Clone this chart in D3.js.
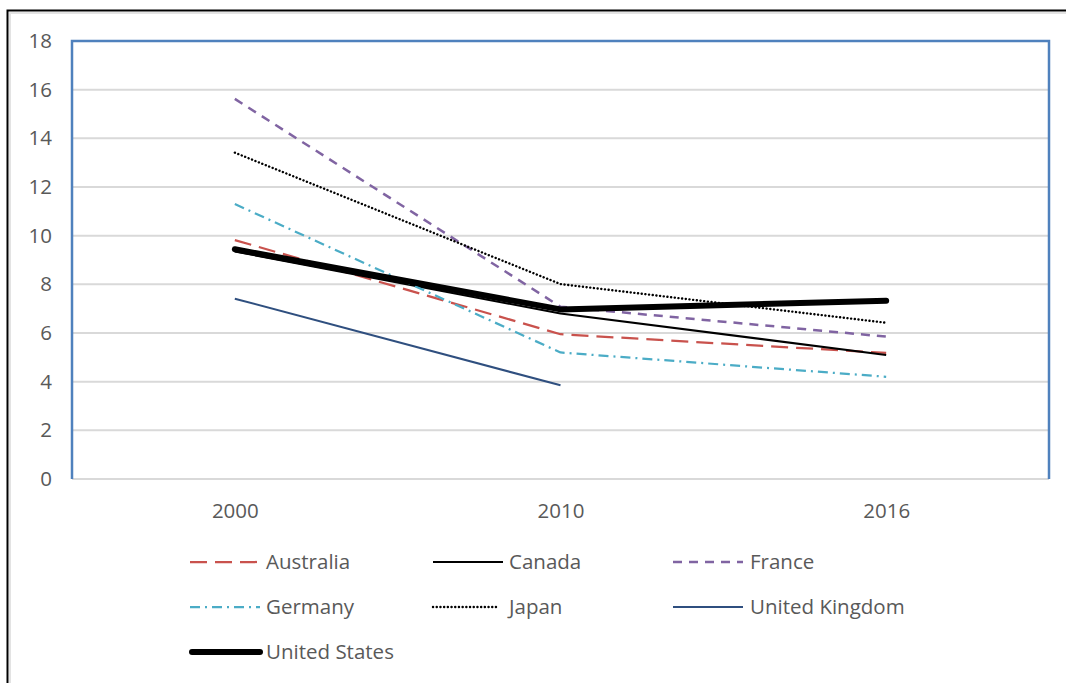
<!DOCTYPE html>
<html>
<head>
<meta charset="utf-8">
<script src="https://cdn.jsdelivr.net/npm/d3@7"></script>
<style>
  body { margin: 0; background: #fff; }
  text { font-family: "Open Sans", "Noto Sans", sans-serif; fill: #595959; }
</style>
</head>
<body>
<div id="chart"></div>
<script>
const years = ['2000', '2010', '2016'];
const yTicks = [0, 2, 4, 6, 8, 10, 12, 14, 16, 18];

const australia = [9.82, 5.95, 5.18];
const canada = [9.35, 6.8, 5.1];
const france = [15.62, 7.08, 5.85];
const germany = [11.3, 5.2, 4.2];
const japan = [13.41, 8.01, 6.42];
const unitedKingdom = [7.41, 3.85, null];
const unitedStates = [9.44, 6.97, 7.33];

const series = [
    { name: 'Australia', values: australia, color: '#c9524d', width: 2.25, dash: '17,8', cap: 'butt' },
    { name: 'Canada', values: canada, color: '#000000', width: 2, dash: null, cap: 'butt' },
    { name: 'France', values: france, color: '#8064a2', width: 2.5, dash: '9,7', cap: 'butt' },
    { name: 'Germany', values: germany, color: '#4bacc6', width: 2.25, dash: '10,5,2,5', cap: 'butt' },
    { name: 'Japan', values: japan, color: '#000000', width: 2.4, dash: '0.1,3.6', cap: 'round' },
    { name: 'United Kingdom', values: unitedKingdom, color: '#2f4f7f', width: 2, dash: null, cap: 'butt' },
    { name: 'United States', values: unitedStates, color: '#000000', width: 6, dash: null, cap: 'round' }
];

const width = 1066;
const height = 683;
const plot = { left: 72, top: 41, right: 1049, bottom: 479 };
const fontSize = 20.5;

const svg = d3.select('#chart').append('svg')
    .attr('width', width)
    .attr('height', height);

// outer frame (screenshot border)
svg.append('path')
    .attr('d', 'M7.5,' + height + ' V10.5 H' + width)
    .attr('fill', 'none')
    .attr('stroke', '#000')
    .attr('stroke-width', 2);
svg.append('path')
    .attr('d', 'M10,' + height + ' V13 H' + width)
    .attr('fill', 'none')
    .attr('stroke', '#e3e3e3')
    .attr('stroke-width', 2);

const x = d3.scalePoint()
    .domain(years)
    .range([plot.left, plot.right])
    .padding(0.5);

const y = d3.scaleLinear()
    .domain([0, 18])
    .range([plot.bottom, plot.top]);

// gridlines
svg.append('g')
    .selectAll('line')
    .data(yTicks.filter(t => t < 18))
    .join('line')
    .attr('x1', plot.left)
    .attr('x2', plot.right)
    .attr('y1', d => y(d))
    .attr('y2', d => y(d))
    .attr('stroke', '#d9d9d9')
    .attr('stroke-width', 2);

// plot area border (left, top, right)
svg.append('path')
    .attr('d', 'M' + plot.left + ',' + plot.bottom + ' V' + plot.top + ' H' + plot.right + ' V' + plot.bottom)
    .attr('fill', 'none')
    .attr('stroke', '#4f81bd')
    .attr('stroke-width', 2.5);

// y axis labels
const yAxis = svg.append('g')
    .attr('transform', 'translate(' + (plot.left - 20) + ',0)')
    .call(d3.axisLeft(y).tickValues(yTicks).tickSize(0).tickPadding(0));
yAxis.select('.domain').remove();
yAxis.selectAll('text')
    .attr('font-size', fontSize)
    .attr('font-family', '"Open Sans", sans-serif')
    .attr('fill', '#595959');

// x axis labels
const xAxis = svg.append('g')
    .attr('transform', 'translate(0,' + (plot.bottom + 24) + ')')
    .call(d3.axisBottom(x).tickSize(0).tickPadding(0));
xAxis.select('.domain').remove();
xAxis.selectAll('text')
    .attr('font-size', fontSize)
    .attr('font-family', '"Open Sans", sans-serif')
    .attr('fill', '#595959');

const line = d3.line()
    .defined(d => d.v !== null)
    .x(d => x(d.year))
    .y(d => y(d.v));

svg.append('g')
    .selectAll('path')
    .data(series)
    .join('path')
    .attr('d', s => line(s.values.map((v, i) => ({ year: years[i], v: v }))))
    .attr('fill', 'none')
    .attr('stroke', s => s.color)
    .attr('stroke-width', s => s.width)
    .attr('stroke-dasharray', s => s.dash)
    .attr('stroke-linecap', s => s.cap)
    .attr('stroke-linejoin', 'round');

// legend
const legendCols = [190, 433, 673];
const legendRows = [562, 607, 652];
const legend = svg.append('g')
    .selectAll('g')
    .data(series)
    .join('g')
    .attr('transform', (s, i) => 'translate(' + legendCols[i % 3] + ',' + legendRows[Math.floor(i / 3)] + ')');

legend.append('line')
    .attr('x1', s => s.cap === 'round' && s.width > 3 ? 2 : 0)
    .attr('x2', s => s.name === 'Japan' ? 66 : 70)
    .attr('y1', 0)
    .attr('y2', 0)
    .attr('stroke', s => s.color)
    .attr('stroke-width', s => s.width)
    .attr('stroke-dasharray', s => s.dash)
    .attr('stroke-linecap', s => s.cap);

legend.append('text')
    .attr('x', (s, i) => i % 3 === 2 ? 77 : 76)
    .attr('y', 0)
    .attr('dy', '0.35em')
    .attr('font-size', fontSize)
    .text(s => s.name);
</script>
</body>
</html>
